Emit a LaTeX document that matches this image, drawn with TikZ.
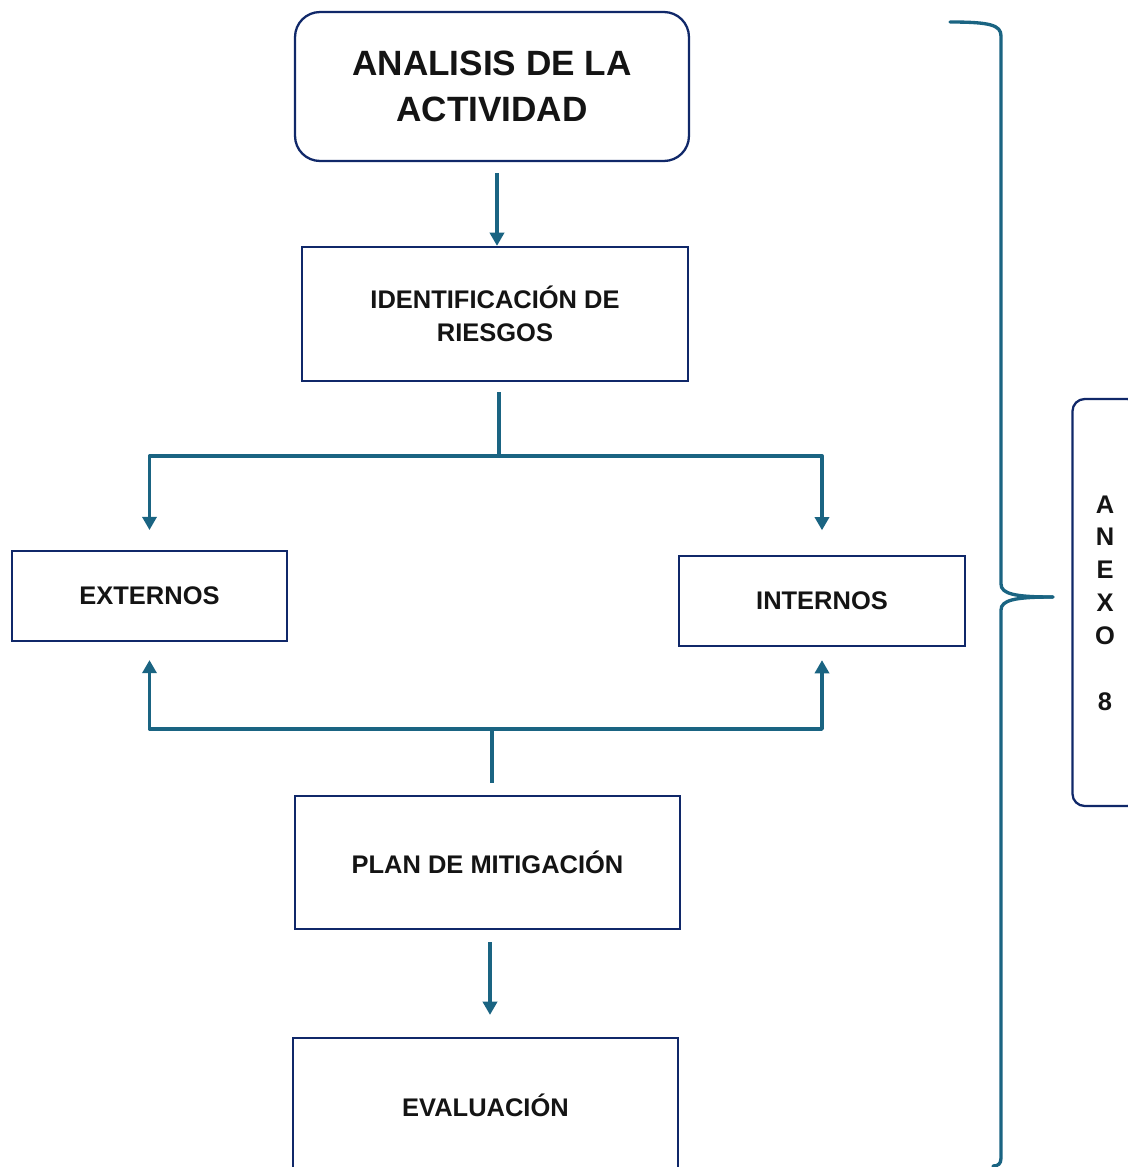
\documentclass[tikz,border=0pt]{standalone}
\usepackage{fontspec}
\setmainfont{Liberation Sans}
\usetikzlibrary{arrows.meta}

\definecolor{marco}{RGB}{16,40,105}
\definecolor{flecha}{RGB}{26,100,130}

\begin{document}
\begin{tikzpicture}[x=0.02cm, y=-0.02cm,
  caja/.style={draw=marco, line width=1.3pt, fill=white, align=center,
    text=black!92, font=\bfseries\fontsize{14.5}{18.7}\selectfont},
  flechita/.style={draw=flecha, line width=1.9pt, line join=round,
    -{Triangle[width=8pt,length=7.5pt]}},
  linea/.style={draw=flecha, line width=1.9pt, line join=round},
  llave/.style={draw=flecha, line width=1.9pt, line cap=round},
]

\useasboundingbox (0,0) rectangle (1128,1167);

% ======================
% Cajas del proceso
% ======================
\node[caja, rounded corners=0.5cm, minimum width=7.88cm, minimum height=2.98cm,
  font=\bfseries\fontsize{20}{26.6}\selectfont]
  (titulo) at (492,86.5) {ANALISIS DE LA\\ACTIVIDAD};

\node[caja, minimum width=7.72cm, minimum height=2.68cm]
  (ident) at (495,314) {IDENTIFICACIÓN DE\\RIESGOS};

\node[caja, minimum width=5.5cm, minimum height=1.8cm]
  (ext) at (149.5,596) {EXTERNOS};
\node[caja, minimum width=5.72cm, minimum height=1.8cm]
  (int) at (822,601) {INTERNOS};

\node[caja, minimum width=7.7cm, minimum height=2.66cm]
  (plan) at (487.5,862.5) {PLAN DE MITIGACIÓN};

\node[caja, minimum width=7.7cm, minimum height=2.68cm]
  (eval) at (485.5,1105) {EVALUACIÓN};

% ======================
% Conectores
% ======================
\coordinate (rama) at (499,456);
\coordinate (union) at (492,729);

\draw[flechita, shorten <=6.2pt] (titulo.south -| 497,0) -- (ident.north -| 497,0);

\draw[linea, shorten <=5.7pt] (ident.south -| rama) -- (rama);
\draw[flechita, shorten >=11.3pt] (rama) -| (ext.north);
\draw[flechita, shorten >=14pt] (rama) -| (int.north);

\draw[linea, shorten <=6.8pt] (plan.north -| union) -- (union);
\draw[flechita, shorten >=10.2pt] (union) -| (ext.south);
\draw[flechita, shorten >=7.4pt] (union) -| (int.south);

\draw[flechita, shorten <=6.8pt, shorten >=12.5pt] (plan.south -| 490,0) -- (eval.north -| 490,0);

% ======================
% Llave y anexo
% ======================
\draw[llave] (950,22) .. controls (990,22) and (1001,25) .. (1001,36)
  -- (1001,584) .. controls (1001,594) and (1015,597) .. (1053,597);
\draw[llave] (1053,597) .. controls (1015,597) and (1001,600) .. (1001,610)
  -- (1001,1158) .. controls (1001,1164) and (998,1166) .. (993,1166);

\node[caja, rounded corners=0.24cm, minimum width=1.34cm, minimum height=8.14cm]
  (anexo) at (1106,602.5) {};
\node[align=center, text=black!92, font=\bfseries\fontsize{14.5}{18.7}\selectfont]
  (letras) at (1105,603) {A\\N\\E\\X\\O\\[18.7pt]8};

\end{tikzpicture}
\end{document}
